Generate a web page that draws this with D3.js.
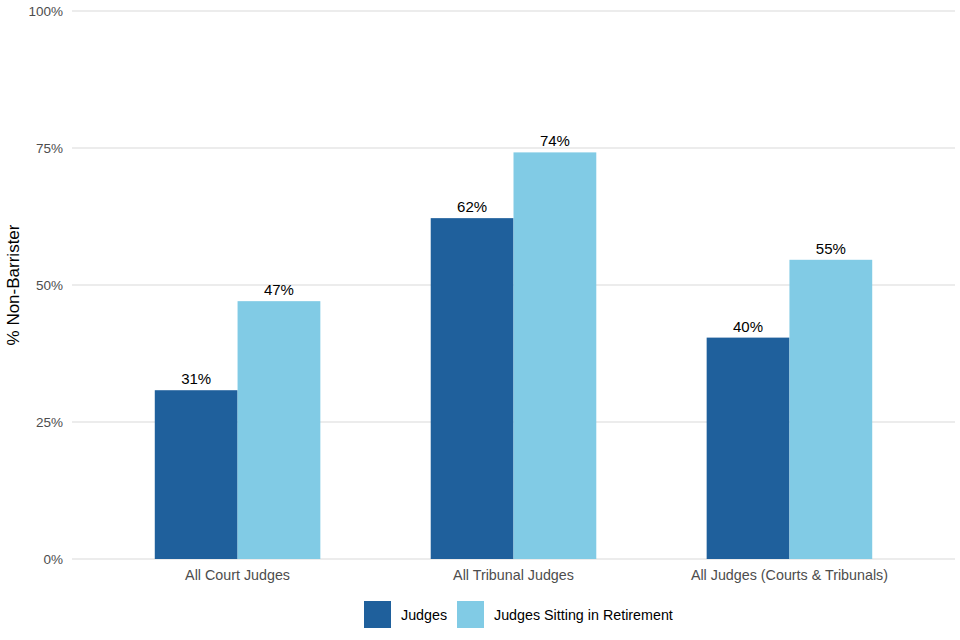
<!DOCTYPE html>
<html>
<head>
<meta charset="utf-8">
<script src="https://cdn.jsdelivr.net/npm/d3@7"></script>
<style>
  body { margin: 0; background: #fff; }
  svg text { font-family: "Liberation Sans", Arial, sans-serif; }
</style>
</head>
<body>
<div id="chart"></div>
<script>
// categories and series
const categories = ["All Court Judges", "All Tribunal Judges", "All Judges (Courts & Tribunals)"];
const seriesNames = ["Judges", "Judges Sitting in Retirement"];
const judges = [30.8, 62.2, 40.4];
const retired = [47.05, 74.2, 54.6];
const yTicks = [0, 25, 50, 75, 100];
const colors = ["#1f609c", "#81cbe5"];

const width = 960, height = 640;
const margin = {top: 11, right: 5, bottom: 81, left: 72};

const svg = d3.select("#chart").append("svg")
  .attr("width", width)
  .attr("height", height);

// ggplot-like discrete expansion: 0.6 units each side
const plotW = width - margin.right - margin.left;
const unit = plotW / (categories.length - 1 + 1.2);
const x = d3.scalePoint()
  .domain(categories)
  .range([margin.left + 0.6 * unit, width - margin.right - 0.6 * unit]);
const barW = 0.3 * unit;

const y = d3.scaleLinear()
  .domain([0, 100])
  .range([height - margin.bottom, margin.top]);

// grid
svg.append("g")
  .selectAll("line")
  .data(yTicks)
  .join("line")
  .attr("x1", margin.left)
  .attr("x2", width - margin.right)
  .attr("y1", d => y(d))
  .attr("y2", d => y(d))
  .attr("stroke", "#d9d9d9")
  .attr("stroke-width", 1.1);

// y tick labels
svg.append("g")
  .selectAll("text")
  .data(yTicks)
  .join("text")
  .attr("x", margin.left - 9)
  .attr("y", d => y(d))
  .attr("dy", "0.35em")
  .attr("text-anchor", "end")
  .attr("font-size", 13.5)
  .attr("fill", "#4d4d4d")
  .text(d => d + "%");

// x tick labels
svg.append("g")
  .selectAll("text")
  .data(categories)
  .join("text")
  .attr("x", d => x(d))
  .attr("y", y(0) + 21)
  .attr("text-anchor", "middle")
  .attr("font-size", 14.3)
  .attr("fill", "#4d4d4d")
  .text(d => d);

// y title
svg.append("text")
  .attr("transform", `translate(19,${(y(0) + y(100)) / 2}) rotate(-90)`)
  .attr("text-anchor", "middle")
  .attr("font-size", 17)
  .attr("fill", "#000")
  .text("% Non-Barrister");

const rows = [];
categories.forEach((c, i) => {
  rows.push({cat: c, s: 0, v: judges[i]});
  rows.push({cat: c, s: 1, v: retired[i]});
});

// bars
svg.append("g")
  .selectAll("rect")
  .data(rows)
  .join("rect")
  .attr("x", d => x(d.cat) - barW + d.s * barW)
  .attr("y", d => y(d.v))
  .attr("width", barW)
  .attr("height", d => y(0) - y(d.v))
  .attr("fill", d => colors[d.s]);

// value labels
svg.append("g")
  .selectAll("text")
  .data(rows)
  .join("text")
  .attr("x", d => x(d.cat) - barW / 2 + d.s * barW)
  .attr("y", d => y(d.v) - 6)
  .attr("text-anchor", "middle")
  .attr("font-size", 15)
  .attr("fill", "#000")
  .text(d => Math.round(d.v) + "%");

// legend
const legend = svg.append("g");
const legendX = [364, 457];
seriesNames.forEach((name, i) => {
  legend.append("rect")
    .attr("x", legendX[i])
    .attr("y", 601)
    .attr("width", 27)
    .attr("height", 27)
    .attr("fill", colors[i]);
  legend.append("text")
    .attr("x", legendX[i] + 37)
    .attr("y", 614.5)
    .attr("dy", "0.35em")
    .attr("font-size", 14.3)
    .attr("fill", "#000")
    .text(name);
});
</script>
</body>
</html>
